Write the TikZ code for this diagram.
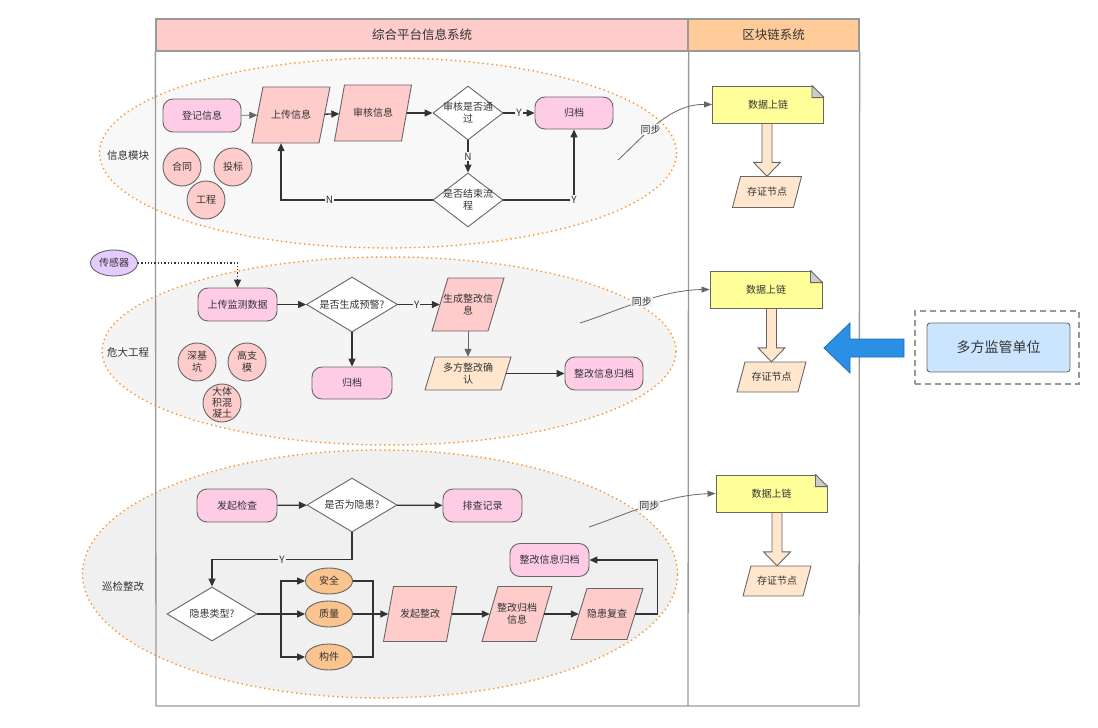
\documentclass[tikz,border=0pt]{standalone}
\usepackage{fontspec}
\setmainfont{Noto Sans CJK SC}
\usetikzlibrary{shapes.geometric,arrows.meta,calc}
\definecolor{txtc}{HTML}{333333}
\definecolor{bordr}{HTML}{666666}
\definecolor{framec}{HTML}{999999}
\definecolor{pinkbox}{HTML}{FFCCE6}
\definecolor{parafill}{HTML}{FFCCCC}
\definecolor{hdrright}{HTML}{FFCC99}
\definecolor{lightor}{HTML}{FFE6CC}
\definecolor{ovalor}{HTML}{FAC48E}
\definecolor{notey}{HTML}{FFFF99}
\definecolor{foldc}{HTML}{CCCCCC}
\definecolor{dotor}{HTML}{FF9933}
\definecolor{regA}{HTML}{F8F8F8}
\definecolor{regB}{HTML}{F4F4F4}
\definecolor{regC}{HTML}{F0F0F0}
\definecolor{sensorc}{HTML}{E5CCFF}
\definecolor{bluef}{HTML}{2B8FE6}
\definecolor{blued}{HTML}{1A6FB8}
\definecolor{supf}{HTML}{CCE5FF}
\definecolor{arrc}{HTML}{333333}
\newcommand{\mynotefold}[1]{%
  \fill[white] ($(#1.north east)+(-12,-1)$) -- ($(#1.north east)+(1.2,-1)$) -- ($(#1.north east)+(1.2,12)$) -- cycle;
  \draw[draw=bordr, fill=foldc, line width=0.9pt, line join=round] ($(#1.north east)+(-12,0)$) -- ($(#1.north east)+(0,12)$) -- ($(#1.north east)+(-12,12)$) -- cycle;}
\newcommand{\myblk}[2]{%
  \draw[draw=bordr, fill=lightor, line width=0.9pt, line join=miter] let \p1=(#1.south), \p2=(#2.north) in
   (\x2-5pt,\y1) -- (\x2+5pt,\y1) -- (\x2+5pt,\y2+14pt) -- (\x2+13.5pt,\y2+14pt) -- (\x2,\y2) -- (\x2-13.5pt,\y2+14pt) -- (\x2-5pt,\y2+14pt) -- cycle;}
% parallelogram: name, x, y, total width, height, slant offset, fill, text
\newcommand{\mypara}[8]{%
  \draw[draw=bordr, fill=#7, line width=0.9pt, line join=miter] ({#2-#4/2},{#3+#5/2}) -- ({#2+#4/2-#6},{#3+#5/2}) -- ({#2+#4/2},{#3-#5/2}) -- ({#2-#4/2+#6},{#3-#5/2}) -- cycle;
  \node[paratext, minimum width={(#4-#6)*1pt}, minimum height={#5*1pt}] (#1) at (#2,#3) {#8};}
\begin{document}
\begin{tikzpicture}[x=1pt,y=-1pt,
  font=\fontsize{10}{12}\selectfont, text=txtc,
  base/.style={draw=bordr, line width=0.9pt, text=txtc, inner sep=1pt, align=center},
  paratext/.style={inner sep=0pt, align=center, text=txtc},
  rbox/.style={base, rounded corners=10pt, fill=pinkbox, minimum width=78pt, minimum height=33pt},
  dia/.style={base, diamond, fill=white, inner sep=0pt},
  circ/.style={base, circle, fill=parafill, minimum size=38pt, inner sep=0pt},
  oval/.style={base, ellipse, fill=ovalor, minimum width=47pt, minimum height=26pt, inner sep=0pt},
  notebox/.style={base, fill=notey, minimum width=111pt, minimum height=37pt},
  region/.style={ellipse, draw=dotor, line width=2pt, dash pattern=on 0pt off 4.6pt, line cap=round, inner sep=0pt},
  hdr/.style={draw=framec, line width=1.3pt, minimum height=32pt, font=\fontsize{12.5}{14}\selectfont, text=txtc},
  arr/.style={-{Triangle[length=8pt,width=7pt]}, draw=arrc, line width=1.3pt},
  plain/.style={draw=arrc, line width=1.3pt},
  sync/.style={-{Triangle[length=8pt,width=6pt]}, draw=bordr, line width=0.8pt},
  elbl/.style={inner sep=1pt, text=txtc},
  modlbl/.style={text=txtc, font=\fontsize{10.5}{12}\selectfont}
]
\useasboundingbox (0,0) rectangle (1098,728);

% regions
\node[region, fill=regA, minimum width=577pt, minimum height=190pt] (e1) at (388,153) {};
\node[region, fill=regB, minimum width=574pt, minimum height=188pt] (e2) at (389,351) {};
\node[region, fill=regC, minimum width=595pt, minimum height=248pt] (e3) at (380,574) {};

% frame
\node[hdr, fill=parafill, minimum width=532pt] (h1) at (422,35) {综合平台信息系统};
\node[hdr, fill=hdrright, minimum width=171pt] (h2) at (773.5,35) {区块链系统};
\draw[draw=framec, line width=1.3pt] (h1.south west) -- (156,706) -- (859,706) -- (h2.south east);
\draw[draw=framec, line width=1.3pt] (h1.south east) -- (688,706);

% module labels
\node[modlbl] (m1) at (128,155) {信息模块};
\node[modlbl] (m2) at (128,353) {危大工程};
\node[modlbl] (m3) at (123,586) {巡检整改};

% ---------- top module ----------
\node[rbox] (reg) at (202,115.5) {登记信息};
\mypara{up}{291}{115}{78}{56}{11}{parafill}{上传信息}
\mypara{sh}{373}{113}{77}{56}{10}{parafill}{审核信息}
\node[dia, minimum width=70pt, minimum height=54pt] (d1) at (468,113) {};
\node[align=center] (d1t) at (d1) {审核是否通\\过};
\node[rbox, minimum height=32pt] (gd1) at (574,113) {归档};
\node[dia, minimum width=70pt, minimum height=54pt] (d2) at (468,200) {};
\node[align=center] (d2t) at (d2) {是否结束流\\程};
\node[circ] (c1) at (182,167) {合同};
\node[circ] (c2) at (233,167) {投标};
\node[circ] (c3) at (206,200) {工程};

\draw[arr, line width=0.9pt, draw=bordr] (reg) -- (up);
\draw[arr] (up) -- (sh);
\draw[arr] (sh) -- (d1);
\draw[arr] (d1) -- node[elbl, fill=regA] {Y} (gd1);
\draw[arr] (d1) -- node[elbl, fill=regA] {N} (d2);
\draw[arr] (d2.west) -| node[elbl, fill=regA, pos=0.34] {N} ([xshift=-10pt]up.south);
\draw[arr] (d2.east) -| node[elbl, fill=regA, pos=0.5] {Y} (gd1.south);

% ---------- middle module ----------
\node[base, ellipse, fill=sensorc, minimum width=47pt, minimum height=26pt, inner sep=0pt] (sen) at (114,263) {传感器};
\node[rbox, minimum width=79pt] (mon) at (237.5,304.5) {上传监测数据};
\node[dia, minimum width=91pt, minimum height=55pt] (d3) at (352,304.5) {};
\node (d3t) at (d3) {是否生成预警?};
\node[rbox, minimum width=80pt, minimum height=32pt] (gd2) at (352,383) {归档};
\mypara{gen}{468}{304.5}{72}{53}{16}{parafill}{生成整改信\\息}
\mypara{mc}{468}{373.5}{86}{33}{10}{lightor}{多方整改确\\认}
\node[rbox] (ar2) at (604,373.5) {整改信息归档};
\node[circ] (c4) at (197,362) {深基\\坑};
\node[circ] (c5) at (247,362) {高支\\模};
\node[circ, font=\fontsize{10}{11}\selectfont] (c6) at (222,403) {大体\\积混\\凝土};

\draw[arr, dotted, line width=1.5pt] (sen.east) -| (mon.north);
\draw[arr] (mon) -- (d3);
\draw[arr] (d3) -- node[elbl, fill=regB, pos=0.45] {Y} (gen);
\draw[arr] (d3) -- (gd2);
\draw[arr, line width=1pt, draw=bordr] (gen) -- (mc);
\draw[arr] (mc) -- (ar2);

% ---------- bottom module ----------
\node[rbox, minimum width=80pt] (fq) at (237,505.5) {发起检查};
\node[dia, minimum width=90pt, minimum height=54pt] (d4) at (352,505) {};
\node (d4t) at (d4) {是否为隐患?};
\node[rbox, minimum width=79pt] (pc) at (482.5,505.5) {排查记录};
\node[dia, minimum width=90pt, minimum height=54pt] (d5) at (212,614) {};
\node (d5t) at (d5) {隐患类型?};
\node[oval] (o1) at (329,581) {安全};
\node[oval] (o2) at (329,614) {质量};
\node[oval] (o3) at (329,657) {构件};
\mypara{fz}{420}{614}{73}{55}{10}{parafill}{发起整改}
\mypara{zg}{517}{614}{70}{55}{16}{parafill}{整改归档\\信息}
\mypara{fc}{607}{614}{72}{51}{16}{parafill}{隐患复查}
\node[rbox, minimum width=79pt] (ar3) at (549.5,560) {整改信息归档};
\coordinate (j1) at (281,614);
\coordinate (j2) at (373,614);

\draw[arr] (fq) -- (d4);
\draw[arr] (d4) -- (pc);
\draw[arr] (d4.south) -- ++(0,27) -| node[elbl, fill=regC, pos=0.25] {Y} (d5.north);
\draw[arr] (d5) -- (o2);
\draw[arr] (j1) |- (o1.west);
\draw[arr] (j1) |- (o3.west);
\draw[plain] (o1.east) -| (j2);
\draw[plain] (o3.east) -| (j2);
\draw[arr] (o2) -- (fz);
\draw[arr] (fz) -- (zg);
\draw[arr] (zg) -- (fc);
\draw[arr] (fc.east) -- ++(22,0) |- (ar3.east);

% ---------- blockchain column ----------
\node[notebox] (n1) at (768,104.5) {数据上链};
\mynotefold{n1}
\mypara{z1}{767}{192}{69}{31}{8}{lightor}{存证节点}
\myblk{n1}{z1}

\node[notebox, minimum width=112pt] (n2) at (766,289.5) {数据上链};
\mynotefold{n2}
\mypara{z2}{771.5}{377}{69}{30}{8}{lightor}{存证节点}
\myblk{n2}{z2}

\node[notebox] (n3) at (771.5,493.5) {数据上链};
\mynotefold{n3}
\mypara{z3}{777}{581}{68}{30}{8}{lightor}{存证节点}
\myblk{n3}{z3}

% sync connectors
\coordinate (s1) at (618,160);
\coordinate (s2) at (580,323);
\coordinate (s3) at (589,527);
\draw[sync] (s1) .. controls (645,135) and (670,104) .. node[elbl, fill=regA, pos=0.4] {同步} (n1.west);
\draw[sync] (s2) .. controls (615,312) and (660,290) .. node[elbl, fill=regB, pos=0.52] {同步} (n2.west);
\draw[sync] (s3) .. controls (625,515) and (665,495) .. node[elbl, fill=regC, pos=0.52] {同步} (n3.west);

% supervision
\node[draw=framec, line width=1.2pt, dash pattern=on 6pt off 4pt, minimum width=164pt, minimum height=73pt] (sbox) at (997,347.5) {};
\node[draw=bordr, line width=0.9pt, fill=supf, rounded corners=3pt, minimum width=143pt, minimum height=49pt, font=\fontsize{14}{16}\selectfont] (sup) at (998.5,347.5) {多方监管单位};
\draw[fill=bluef, draw=blued, line width=0.8pt, line join=miter] (824,348) -- (850,323) -- (850,339) -- (904,339) -- (904,357) -- (850,357) -- (850,373) -- cycle;
\end{tikzpicture}
\end{document}
